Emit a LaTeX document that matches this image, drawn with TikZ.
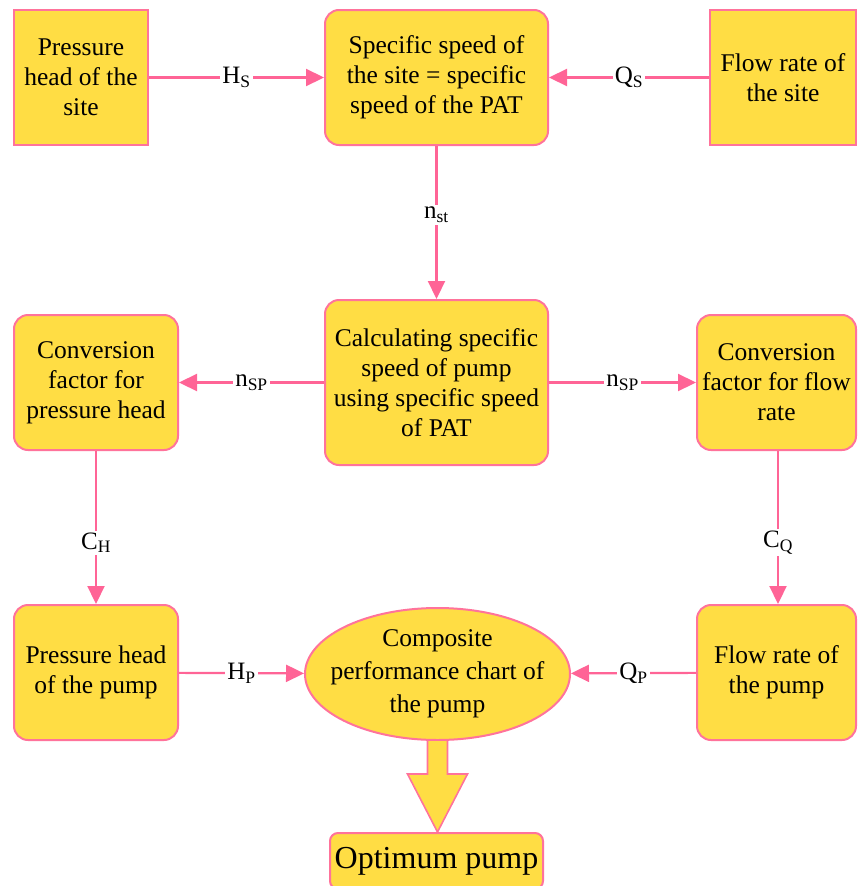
\documentclass[tikz,border=0pt]{standalone}
\usepackage{fontspec}
\setmainfont{Liberation Serif}
\usetikzlibrary{arrows.meta,positioning,shapes.geometric,calc}
\definecolor{boxfill}{RGB}{255,221,68}
\definecolor{boxline}{RGB}{255,115,155}
\definecolor{linkpink}{RGB}{255,100,150}

\begin{document}
\begin{tikzpicture}[x=1pt,y=-1pt,
    box/.style={rectangle,draw=boxline,fill=boxfill,line width=2pt,rounded corners=14pt,align=center,inner sep=0pt,font=\fontsize{25.5}{30}\selectfont},
    sqbox/.style={box,sharp corners},
    link/.style={draw=linkpink,line width=2.2pt,-{Triangle[length=18pt,width=17pt]}},
    lbl/.style={fill=white,inner sep=2pt,font=\fontsize{25}{28}\selectfont}
  ]
  \useasboundingbox (0,0) rectangle (859,886);
  % top row
  \node[sqbox,minimum width=134pt,minimum height=135pt] (sitehead) at (81,77.5) {Pressure\\head of the\\site};
  \node[box,minimum width=223pt,minimum height=135pt] (nsite) at (436.5,77.5) {Specific speed of\\the site = specific\\speed of the PAT};
  \node[sqbox,minimum width=146pt,minimum height=135pt] (siteflow) at (783,77.5) {Flow rate of\\the site};
  % middle row
  \node[box,minimum width=164pt,minimum height=135pt] (convH) at (96,382.5) {Conversion\\factor for\\pressure head};
  \node[box,minimum width=223pt,minimum height=165pt] (calcpump) at (436.5,382.5) {Calculating specific\\speed of pump\\using specific speed\\of PAT};
  \node[box,minimum width=159pt,minimum height=135pt] (convQ) at (776.5,382.5) {Conversion\\factor for flow\\rate};
  % bottom row
  \node[box,minimum width=164pt,minimum height=135pt] (pumphead) at (96,672.5) {Pressure head\\of the pump};
  \node[ellipse,draw=boxline,fill=boxfill,line width=2pt,inner xsep=-14pt,inner ysep=0pt,align=center,minimum width=265pt,minimum height=132pt,font=\fontsize{25.5}{33}\selectfont] (chart) at (437.5,674) {Composite\\performance chart of\\the pump};
  \node[box,minimum width=159pt,minimum height=135pt] (pumpflow) at (776.5,672.5) {Flow rate of\\the pump};
  \node[box,rounded corners=8pt,minimum width=213pt,minimum height=56pt,font=\fontsize{32}{34}\selectfont] (optpump) at (436.5,861) {Optimum pump};

  \draw[link] (sitehead) -- node[lbl] {H\textsubscript{S}} (nsite);
  \draw[link] (siteflow) -- node[lbl] {Q\textsubscript{S}} (nsite);
  \draw[link] (nsite) -- node[lbl,pos=0.45] {n\textsubscript{st}} (calcpump);
  \draw[link] (calcpump) -- node[lbl] {n\textsubscript{SP}} (convH);
  \draw[link] (calcpump) -- node[lbl] {n\textsubscript{SP}} (convQ);
  \draw[link] (convH) -- node[lbl,pos=0.6] {C\textsubscript{H}} (pumphead);
  \draw[link] (convQ.south -| 778,0) -- node[lbl,pos=0.6] {C\textsubscript{Q}} (pumpflow.north -| 778,0);
  \draw[link] (pumphead) -- node[lbl] {H\textsubscript{P}} (chart);
  \draw[link] (pumpflow) -- node[lbl] {Q\textsubscript{P}} (chart);
  % block arrow
  \draw[draw=boxline,fill=boxfill,line width=1.6pt] let \p1=(chart.south), \p2=(optpump.north) in
    (\x1-10pt,\y1) -- (\x1-10pt,\y2+58pt) -- (\x1-30pt,\y2+58pt) -- (\x1,\y2) -- (\x1+30pt,\y2+58pt) -- (\x1+10pt,\y2+58pt) -- (\x1+10pt,\y1);
\end{tikzpicture}
\end{document}
